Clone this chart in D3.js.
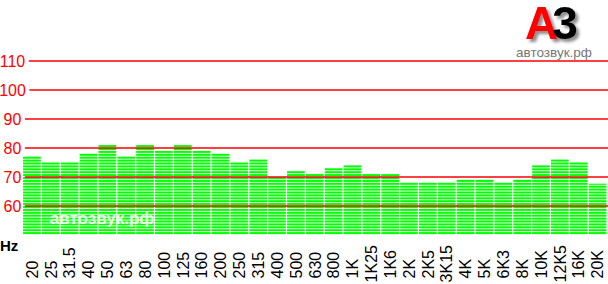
<!DOCTYPE html>
<html><head><meta charset="utf-8">
<script src="https://cdn.jsdelivr.net/npm/d3@7"></script>
<style>
html,body{margin:0;padding:0;background:#fff;}
svg{display:block;font-family:"Liberation Sans",Arial,sans-serif;}
</style></head>
<body>
<svg id="chart" width="608" height="284"></svg>
<script>
const bands = ["20","25","31.5","40","50","63","80","100","125","160","200","250","315","400","500","630","800","1K","1K25","1K6","2K","2K5","3K15","4K","5K","6K3","8K","10K","12K5","16K","20K"];
const levels = [77,75,75,78,81,77,81,79,81,79,78,75,76,70,72,71,73,74,71,71,68,68,68,69,69,68,69,74,76,75,67.7];
const yTicks = [60,70,80,90,100,110];
const baseLevel = 50;
const unitLabel = "Hz";
const watermark = "автозвук.рф";

const svg = d3.select("#chart");
const W = 608;
const x = d3.scaleBand().domain(bands).range([22.5, 607]).paddingInner(0.06).paddingOuter(0.03);
const y = d3.scaleLinear().domain([60, 110]).range([206, 61]);

const defs = svg.append("defs");
const f = defs.append("filter").attr("id", "shadow").attr("x", "-20%").attr("y", "-20%")
  .attr("width", "150%").attr("height", "150%");
f.append("feDropShadow").attr("dx", 3).attr("dy", 3).attr("stdDeviation", 1.5)
  .attr("flood-color", "#000").attr("flood-opacity", 0.45);

// bars as stacked 1 dB stripes
const gBars = svg.append("g");
bands.forEach((b, i) => {
  const v = levels[i];
  const ks = d3.range(baseLevel + 1, Math.ceil(v) + 1);
  gBars.selectAll(null).data(ks).enter().append("rect")
    .attr("x", x(b))
    .attr("width", x.bandwidth())
    .attr("y", k => Math.max(y(k), y(v)))
    .attr("height", k => y(k) + 2 - Math.max(y(k), y(v)))
    .attr("fill", "#00ff00");
});

// watermark
svg.append("text").attr("x", 102).attr("y", 224).attr("text-anchor", "middle")
  .attr("font-size", 17).attr("font-weight", "bold").attr("fill", "#fff")
  .attr("fill-opacity", 0.9).text(watermark);

// y axis labels & gridlines
const gy = svg.append("g");
yTicks.forEach(t => {
  const txt = gy.append("text").attr("x", 12.5).attr("y", y(t)).attr("dy", "0.36em")
    .attr("text-anchor", "middle").attr("font-size", 16).attr("fill", "#ff0000").text(t);
  const w = txt.node().getComputedTextLength();
  gy.append("line").attr("x1", 12.5 + w / 2 + 3.5).attr("x2", W)
    .attr("y1", y(t)).attr("y2", y(t)).attr("stroke", "#ff0000").attr("stroke-width", 1.6);
});

// x labels
const gx = svg.append("g");
bands.forEach(b => {
  const cx = x(b) + x.bandwidth() / 2;
  const t = gx.append("text").attr("font-size", 16).attr("fill", "#000")
    .attr("dy", "0.36em").text(b);
  const w = t.node().getComputedTextLength();
  const y0 = Math.max(278.5, 245 + w);
  t.attr("transform", `translate(${cx},${y0}) rotate(-90)`);
});

svg.append("text").attr("x", 0).attr("y", 251).attr("font-size", 15)
  .attr("font-weight", "bold").attr("fill", "#000").text(unitLabel);

// logo
const logo = svg.append("text").attr("x", 525).attr("y", 39).attr("font-size", 46)
  .attr("font-weight", "bold").attr("filter", "url(#shadow)");
logo.append("tspan").attr("fill", "#ff0000").text("A");
logo.append("tspan").attr("fill", "#000").attr("dx", -6).text("3");
svg.append("text").attr("x", 554).attr("y", 57).attr("text-anchor", "middle").attr("font-size", 13.5)
  .attr("fill", "#777").text(watermark);
</script>
</body></html>
